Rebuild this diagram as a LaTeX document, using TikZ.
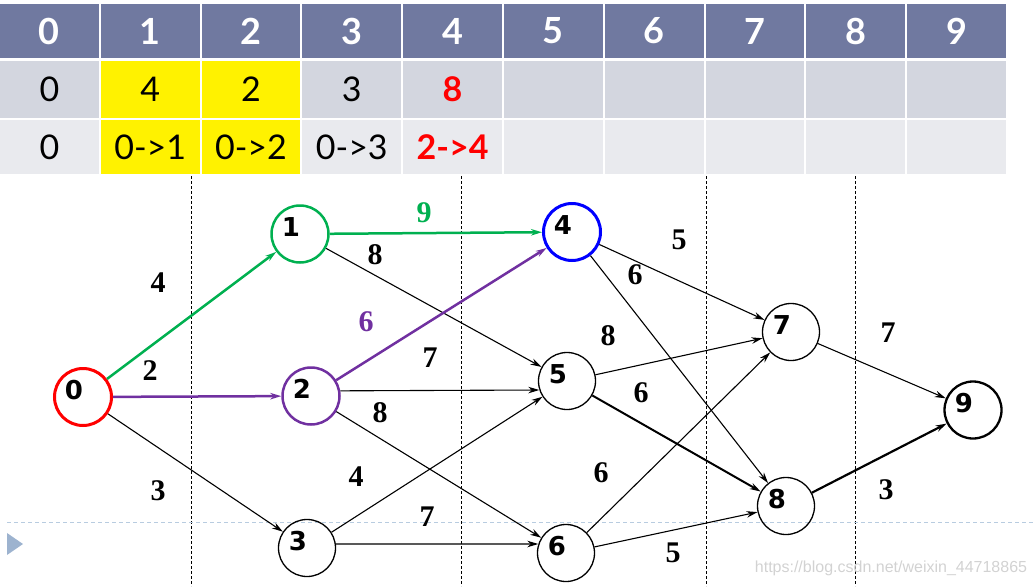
\documentclass[tikz,border=0pt]{standalone}
\usepackage{fontspec}
\setmainfont{Liberation Serif}
\newfontfamily\tabfont{Lato}
\newfontfamily\knotfont{DejaVu Sans}
\newfontfamily\markfont{Liberation Sans}
\usepackage{xcolor}
\definecolor{headblue}{HTML}{7079A0}
\definecolor{rowgray}{HTML}{D3D6DF}
\definecolor{rowlight}{HTML}{E9EAEE}
\definecolor{pathgreen}{HTML}{00B050}
\definecolor{pathpurple}{HTML}{7030A0}
\definecolor{lineblue}{HTML}{B8CCE0}
\definecolor{tripblue}{HTML}{9DB3CF}
\usepackage{tikz}
\usetikzlibrary{arrows.meta}

\begin{document}
\begin{tikzpicture}[x=1pt, y=-1pt,
    >={Stealth[length=11pt, width=6.5pt]},
    cell/.style={minimum width=98.8pt, inner sep=0pt, font=\tabfont\fontsize{34}{38}\selectfont},
    headcell/.style={cell, fill=headblue, text=white, minimum height=54pt, font=\tabfont\fontsize{36}{40}\selectfont\bfseries},
    knot/.style={circle, draw, line width=1.3pt, minimum size=57pt, inner sep=0pt},
    num/.style={label={[xshift=-9pt, yshift=7pt, font=\knotfont\fontsize{26}{30}\selectfont\bfseries]center:#1}},
    arc/.style={->, line width=1.1pt},
    weight/.style={font=\fontsize{30}{33}\selectfont\bfseries},
    guide/.style={dash pattern=on 3pt off 2pt, line width=0.8pt}
]
  \useasboundingbox (0,0) rectangle (1035,586);

  % Tabelle: Kopfzeile, Distanzen, Wege
  \foreach \i in {0,...,9}
    \node[headcell] (h\i) at ({\i*100.8+49.4},31) {\i};
  \foreach \i/\v/\c in {0/0/rowgray, 1/4/yellow, 2/2/yellow, 3/3/rowgray,
      4/{\color{red}\bfseries 8}/rowgray, 5//rowgray, 6//rowgray, 7//rowgray, 8//rowgray, 9//rowgray}
    \node[cell, fill=\c, minimum height=57pt] (d\i) at ({\i*100.8+49.4},89.5) {\v};
  \foreach \i/\v/\c in {0/0/rowlight, 1/0->1/yellow, 2/0->2/yellow, 3/0->3/rowlight,
      4/{\color{red}\bfseries 2->4}/rowlight, 5//rowlight, 6//rowlight, 7//rowlight, 8//rowlight, 9//rowlight}
    \node[cell, fill=\c, minimum height=54pt] (p\i) at ({\i*100.8+49.4},147) {\v};

  % Hilfslinien
  \foreach \x in {191,461,706,855}
    \draw[guide] (\x,176) -- (\x,586);
  \draw[lineblue, dash pattern=on 4pt off 3pt, line width=1pt] (7,522) -- (1035,522);
  \fill[tripblue] (7,533) -- (23,544) -- (7,555) -- cycle;

  % Knoten
  \node[knot, draw=red, line width=3pt, num=0] (v0) at (83,397) {};
  \node[knot, draw=pathgreen, line width=2.5pt, num=1] (v1) at (300,234) {};
  \node[knot, draw=pathpurple, line width=2.5pt, num=2] (v2) at (311,396) {};
  \node[knot, num=3] (v3) at (307,548) {};
  \node[knot, draw=blue, line width=3pt, num=4] (v4) at (572,232) {};
  \node[knot, num=5] (v5) at (567,381) {};
  \node[knot, num=6] (v6) at (566,553) {};
  \node[knot, num=7] (v7) at (791,332) {};
  \node[knot, num=8] (v8) at (786,506) {};
  \node[knot, line width=2.3pt, num=9] (v9) at (973,410) {};

  % Kanten
  \draw[arc, pathgreen, line width=2.5pt] (v0) -- (v1);
  \draw[arc, pathpurple, line width=2.5pt] (v0) -- (v2);
  \draw[arc] (v0) -- (v3);
  \draw[arc, pathgreen, line width=2.5pt] (v1) -- (v4);
  \draw[arc] (v1) -- (v5);
  \draw[arc, pathpurple, line width=2.5pt] (v2) -- (v4);
  \draw[arc] (v2.10) -- (v5.198);
  \draw[arc] (v2) -- (v6);
  \draw[arc] (v3) -- (v5);
  \draw[arc] (v3.8) -- (v6.162);
  \draw[arc] (v4) -- (v7);
  \draw[arc] (v4) -- (v8);
  \draw[arc] (v5) -- (v7);
  \draw[arc, line width=2pt] (v5) -- (v8);
  \draw[arc] (v6) -- (v7);
  \draw[arc] (v6) -- (v8);
  \draw[arc] (v7) -- (v9);
  \draw[arc, line width=2.2pt] (v8) -- (v9);

  % Gewichte
  \foreach \n/\x/\y/\t in {w01/158/283/4, w02/150/371/2, w03/158/491/3, w15/375/255/8,
      w25/430/358/7, w26/380/413/8, w35/356/477/4, w36/427/517/7, w47/679/240/5,
      w48/635/275/6, w57/608/336/8, w58/641/393/6, w67/601/473/6, w68/673/553/5,
      w79/888/333/7, w89/886/490/3}
    \node[weight] (\n) at (\x,\y) {\t};
  \node[weight, text=pathgreen] (w14) at (424,213) {9};
  \node[weight, text=pathpurple] (w24) at (366,322) {6};

  % Quelle
  \node[text=gray!35, font=\markfont\fontsize{16}{18}\selectfont] (mark) at (891,568) {https://blog.csdn.net/weixin\_44718865};

\end{tikzpicture}
\end{document}
